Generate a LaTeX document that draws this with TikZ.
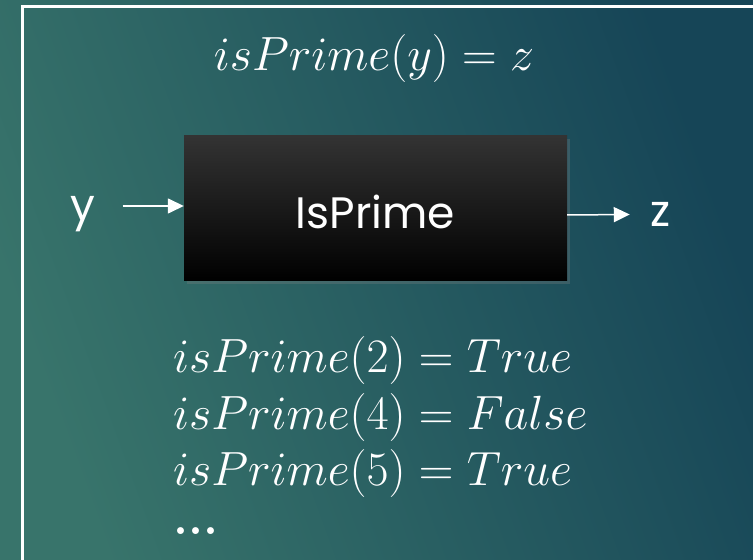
\RequirePackage{fix-cm}
\documentclass[tikz,border=0pt]{standalone}
\usepackage{fontspec}
\newfontfamily\boxfont{Poppins}
\usetikzlibrary{arrows.meta,positioning,shadows}
\definecolor{slateleft}{HTML}{38746B}
\definecolor{slateright}{HTML}{164557}
\tikzset{
  frame/.style={draw=white, line width=3pt},
  blackbox/.style={draw=none, top color=black!80, bottom color=black, minimum width=383pt, minimum height=145pt,
    drop shadow={shadow xshift=3pt, shadow yshift=-3pt, opacity=0.3}, text=white, font=\boxfont\fontsize{44}{48}\selectfont},
  flow/.style={-{Triangle[length=16pt,width=15pt]}, white, line width=1.5pt},
  lab/.style={text=white, inner sep=0pt, font=\boxfont\fontsize{44}{48}\selectfont},
  eqn/.style={text=white, inner sep=0pt, font=\fontsize{48}{56}\selectfont},
}

\begin{document}
\begin{tikzpicture}[x=1pt,y=1pt]
  \useasboundingbox (0,0) rectangle (753,560);
  \clip (0,0) rectangle (753,560);
  % backdrop and frame
  \shade[left color=slateleft, right color=slateright, shading angle=110] (0,0) rectangle (753,560);
  \draw[frame] (22.5,-10) rectangle (780,553);

  \node[eqn, anchor=base] (title) at (374,489) {$isPrime(y) = z$};

  % the function block
  \node[blackbox] (isprime) at (375.5,351.5) {\raisebox{-3pt}[\height][\depth]{IsPrime}};
  \node[lab] (inlab) at (83,345.5) {y};
  \node[lab] (outlab) at (661,345.5) {z};
  \draw[flow] ([shift={(27pt,8.5pt)}]inlab.east) -- ([yshift=2.5pt]isprime.west);
  \draw[flow] ([yshift=-6.5pt]isprime.east) -- ([xshift=-21pt]outlab.west);

  % examples
  \foreach \n/\v [count=\i] in {2/True,4/False,5/True}
    \node[eqn, anchor=base west] (ex\n) at (173,{187-(\i-1)*56.5}) {$isPrime(\n) = \v$};
  \node[eqn, anchor=base west] (exdots) at ([yshift=-49pt]ex5.base west) {\bfseries ...};
\end{tikzpicture}
\end{document}
